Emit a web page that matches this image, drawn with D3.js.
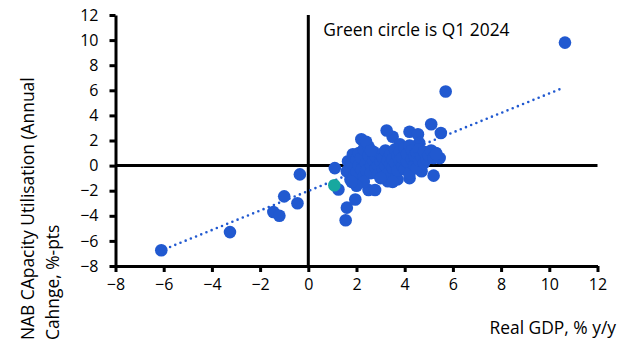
<!DOCTYPE html>
<html>
<head>
<meta charset="utf-8">
<script src="https://cdn.jsdelivr.net/npm/d3@7"></script>
<style>
  body { margin: 0; background: #fff; }
  text { font-family: "Open Sans", "Noto Sans", sans-serif; fill: #000; }
</style>
</head>
<body>
<script>
// Real GDP y/y (x) vs change in NAB capacity utilisation (y)
const gdp = [10.65, 5.7, 5.5, 5.1, 4.2, 3.5, 3.25, 4.55, 4.6, 3.8, 2.2, 2.35,
  -0.35, -1.0, -0.45, -1.45, -1.2, -3.25, -6.1,
  1.1, 1.25, 1.6, 1.55, 1.95, 2.5, 2.77, 3.7, 2.0, 4.2, 5.2, 4.7, 3.3, 1.75,
  1.65, 1.85, 1.6, 5.3, 5.45, 4.5, 5.0,
  1.7, 1.8, 1.9, 2.0, 2.0, 2.1, 2.1, 2.2, 2.2, 2.3, 2.3, 2.4, 2.4, 2.5, 2.5,
  2.6, 2.6, 2.7, 2.7, 2.8, 2.8, 2.9, 2.9, 3.0, 3.0, 3.1, 3.1, 3.2, 3.2, 3.3,
  3.3, 3.4, 3.4, 3.5, 3.5, 3.6, 3.6, 3.7, 3.7, 3.8, 3.8, 3.9, 3.9, 4.0, 4.0,
  4.1, 4.1, 4.2, 4.2, 4.3, 4.3, 4.4, 4.4, 4.5, 4.5, 4.6, 4.6, 4.7, 4.8, 4.8,
  4.9, 5.0, 5.1, 5.2, 5.3, 2.3, 2.0, 1.8, 3.0, 3.5, 2.4, 2.6];
const capUtil = [9.8, 5.9, 2.6, 3.3, 2.7, 2.3, 2.8, 2.5, 1.8, 1.7, 2.1, 1.7,
  -0.7, -2.45, -3.0, -3.7, -4.0, -5.3, -6.75,
  -0.2, -1.9, -3.35, -4.35, -2.7, -1.95, -1.95, -1.1, -1.25, -1.0, -0.8, -0.45, -1.25, -1.1,
  0.35, 0.9, -0.45, 1.0, 0.6, 1.55, 1.0,
  -0.3, 0.2, -0.8, 0.5, -0.5, 1.0, 0.0, -0.3, 0.6, 1.3, -0.9, 0.2, -0.4, 0.8, 1.5,
  0.0, -0.6, 0.4, 1.1, -0.2, 0.7, 0.0, -0.7, 0.3, 0.9, -0.3, 0.6, 1.2, 0.0, 0.4,
  -0.6, 0.9, 0.1, -0.2, 0.5, 1.3, 0.2, 0.8, -0.4, 0.4, 1.1, 0.0, 0.6, 1.4, -0.3,
  0.3, 0.9, 1.6, -0.6, 0.5, 1.2, 0.0, 0.8, 1.0, -0.2, 0.4, 1.3, 0.7, 1.1, 0.2,
  0.5, 0.8, 1.2, 0.6, 0.9, -1.3, -1.6, -1.3, -1.0, -1.3, 1.9, 1.2];
// latest observation, Q1 2024
const latest = [1.08, -1.57];
// linear trend end points [x, y]
const trend = [[-5.95, -6.65], [10.45, 6.1]];
const xTicks = [-8, -6, -4, -2, 0, 2, 4, 6, 8, 10, 12];
const yTicks = [-8, -6, -4, -2, 0, 2, 4, 6, 8, 10, 12];

const data = gdp.map((g, i) => ({x: g, y: capUtil[i]}));

const W = 632, H = 352;
const margin = {top: 15, right: 34.5, bottom: 86, left: 115.5};
const width = W - margin.left - margin.right;
const height = H - margin.top - margin.bottom;
const blue = "#2159d0", teal = "#17a89f";
const font = "'Open Sans', 'Noto Sans', sans-serif";

const svg = d3.select("body").append("svg")
  .attr("width", W).attr("height", H)
  .append("g")
  .attr("transform", "translate(" + margin.left + "," + margin.top + ")");

const x = d3.scaleLinear().domain([-8, 12]).range([0, width]);
const y = d3.scaleLinear().domain([-8, 12]).range([height, 0]);

// zero lines
svg.append("line")
  .attr("x1", x(0)).attr("x2", x(0)).attr("y1", 0).attr("y2", height)
  .attr("stroke", "#000").attr("stroke-width", 3);
svg.append("line")
  .attr("x1", 0).attr("x2", width).attr("y1", y(0)).attr("y2", y(0))
  .attr("stroke", "#000").attr("stroke-width", 3);

// axes
const xAxis = svg.append("g")
  .attr("transform", "translate(0," + height + ")")
  .call(d3.axisBottom(x).tickValues(xTicks).tickSize(6).tickSizeOuter(0).tickPadding(7));
const yAxis = svg.append("g")
  .call(d3.axisLeft(y).tickValues(yTicks).tickSize(6).tickSizeOuter(0).tickPadding(11));
[xAxis, yAxis].forEach(a => {
  a.select(".domain").attr("stroke", "#000").attr("stroke-width", 3);
  a.selectAll(".tick line").attr("stroke", "#000").attr("stroke-width", 3);
  a.selectAll(".tick text").style("font-size", "16px").attr("fill", "#000")
    .style("font-family", font);
});

// trend line
svg.append("path")
  .datum(trend)
  .attr("d", d3.line().x(d => x(d[0])).y(d => y(d[1])))
  .attr("fill", "none")
  .attr("stroke", blue)
  .attr("stroke-width", 2.6)
  .attr("stroke-linecap", "round")
  .attr("stroke-dasharray", "0 5.6");

// points
svg.selectAll("circle.pt")
  .data(data)
  .enter()
  .append("circle")
  .attr("class", "pt")
  .attr("cx", d => x(d.x))
  .attr("cy", d => y(d.y))
  .attr("r", 6.3)
  .style("fill", blue);

svg.append("circle")
  .attr("cx", x(latest[0]))
  .attr("cy", y(latest[1]))
  .attr("r", 6.3)
  .style("fill", teal);

// annotation
svg.append("text")
  .attr("x", x(0) + 15)
  .attr("y", 21)
  .style("font-size", "17.4px")
  .text("Green circle is Q1 2024");

// x axis title
svg.append("text")
  .attr("text-anchor", "end")
  .attr("x", 616 - margin.left)
  .attr("y", 334 - margin.top)
  .style("font-size", "17.4px")
  .text("Real GDP, % y/y");

// y axis title
const yt = svg.append("text")
  .attr("transform", "rotate(-90)")
  .style("font-size", "17.4px");
yt.append("tspan")
  .attr("x", -(340 - margin.top)).attr("y", 34 - margin.left)
  .text("NAB CApacity Utilisation (Annual");
yt.append("tspan")
  .attr("x", -(340 - margin.top)).attr("y", 59 - margin.left)
  .text("Cahnge, %-pts");
</script>
</body>
</html>
